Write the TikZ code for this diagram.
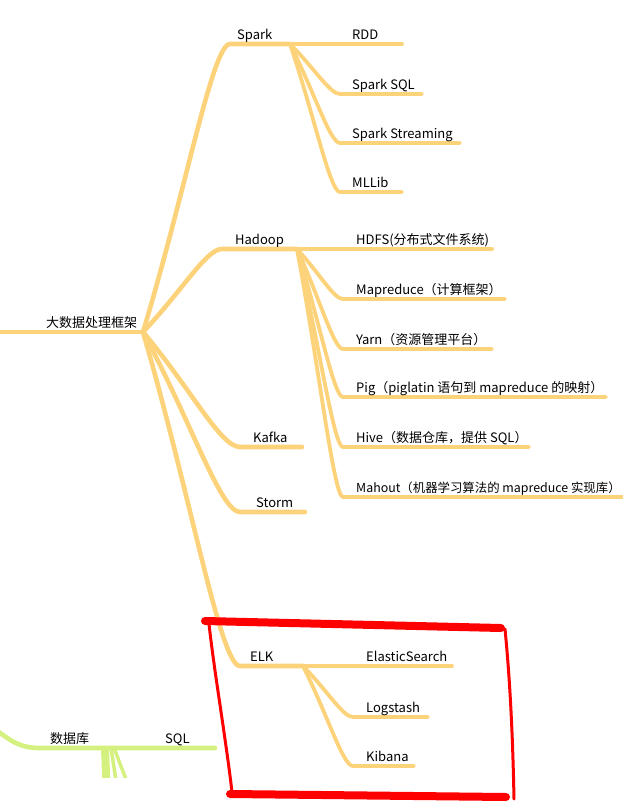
\documentclass[tikz,border=0pt]{standalone}
\usepackage{fontspec}
\setmainfont{Noto Sans CJK SC}
\usetikzlibrary{calc}
\definecolor{branch}{HTML}{FCD37B}
\definecolor{dbline}{HTML}{D4F07E}
\definecolor{penred}{HTML}{FF0000}

\begin{document}
\begin{tikzpicture}[
  x=1pt, y=-1pt,
  font=\fontsize{13}{15}\selectfont,
  br/.style={draw=branch, line width=4.6pt, line cap=round},
  sub/.style={draw=branch, line width=3.8pt, line cap=round},
  db/.style={draw=dbline, line width=4.6pt, line cap=round},
  lbl/.style={anchor=base west, inner sep=0pt},
  pen/.style={draw=penred, line cap=round, line join=round},
]
\useasboundingbox (0,0) rectangle (623,803);

% central topic
\coordinate (root0) at (-5,332);
\coordinate (root) at (143,332);
\draw[br] (root0) -- (root);
\node[lbl] (lroot) at (46,327) {大数据处理框架};

% main branches: name/start x/y/junction x/label/label x
\foreach \n/\xs/\y/\xj/\t/\xl in {spark/230/44/290/Spark/237, hadoop/222/249/297/Hadoop/235,
    kafka/240/447/302/Kafka/253, storm/240/512/305/Storm/256, elk/240/666/303/ELK/250}{
  \coordinate (\n) at (\xs,\y);
  \coordinate (j\n) at (\xj,\y);
  \draw[br] (root) .. controls ($(root)!0.5!(\n)$) and ($(\n)!0.2!(\n -| root)$) .. (\n) -- (j\n);
  \node[lbl] (l\n) at (\xl,\y-5) {\t};
}

% Spark
\foreach \n/\y/\xe/\t in {rdd/44/402/RDD, ssql/94/422/Spark SQL, sstream/143/460/Spark Streaming, mllib/192/402/MLLib}{
  \coordinate (\n) at (340,\y);
  \coordinate (e\n) at (\xe,\y);
  \draw[sub] (jspark) .. controls ($(jspark)!0.5!(\n)$) and ($(\n)!0.2!(\n -| jspark)$) .. (\n) -- (e\n);
  \node[lbl] (l\n) at (352,\y-5) {\t};
}

% Hadoop
\foreach \n/\y/\xe/\t in {hdfs/249/492/HDFS(分布式文件系统), mapred/299/505/Mapreduce（计算框架）,
    yarn/349/492/Yarn（资源管理平台）, pig/397/606/Pig（piglatin 语句到 mapreduce 的映射）,
    hive/447/529/Hive（数据仓库，提供 SQL）}{
  \coordinate (\n) at (343,\y);
  \coordinate (e\n) at (\xe,\y);
  \draw[sub] (jhadoop) .. controls ($(jhadoop)!0.5!(\n)$) and ($(\n)!0.2!(\n -| jhadoop)$) .. (\n) -- (e\n);
  \node[lbl] (l\n) at (356,\y-5) {\t};
}
% last one runs to the edge, set a bit tighter
\coordinate (mahout) at (343,497);
\coordinate (emahout) at (630,497);
\draw[sub] (jhadoop) .. controls ($(jhadoop)!0.5!(mahout)$) and ($(mahout)!0.2!(mahout -| jhadoop)$) .. (mahout) -- (emahout);
\node[lbl, font=\fontsize{12.4}{15}\selectfont] (lmahout) at (356,492) {Mahout（机器学习算法的 mapreduce 实现库）};

% ELK
\foreach \n/\y/\xe/\t in {es/666/452/ElasticSearch, logst/717/428/Logstash, kib/766/414/Kibana}{
  \coordinate (\n) at (353,\y);
  \coordinate (e\n) at (\xe,\y);
  \draw[sub] (jelk) .. controls ($(jelk)!0.5!(\n)$) and ($(\n)!0.2!(\n -| jelk)$) .. (\n) -- (e\n);
  \node[lbl] (l\n) at (366,\y-5) {\t};
}

% database branch (green)
\coordinate (db0) at (-5,729);
\coordinate (db) at (40,748);
\coordinate (jdb) at (105,748);
\coordinate (sql) at (150,748);
\coordinate (esql) at (215,748);
\draw[db] (db0) .. controls +(18,14) and +(-18,0) .. (db) -- (jdb) -- (sql) -- (esql);
\node[lbl] (ldb) at (50,743) {数据库};
\node[lbl] (lsql) at (165,743) {SQL};
\begin{scope}
  \clip (0,0) rectangle (623,777);
  \coordinate (st1) at (107,800);
  \coordinate (st2) at (119,800);
  \coordinate (st3) at (134,800);
  \draw[db, line width=8pt, line cap=butt] (jdb) -- (st1);
  \draw[db, line width=3.5pt, line cap=butt] ([xshift=6pt]jdb) -- (st2);
  \draw[db, line width=3.5pt, line cap=butt] ([xshift=9pt]jdb) -- (st3);
\end{scope}

% hand-drawn red frame
\draw[pen, line width=8pt] (205,621) -- (501,628);
\draw[pen, line width=3pt] (209,624) .. controls (214,670) and (226,740) .. (232,792);
\draw[pen, line width=8pt] (230,794) -- (506,797);
\draw[pen, line width=3pt] (505,629) .. controls (511,690) and (513,750) .. (514,799);
\end{tikzpicture}
\end{document}
